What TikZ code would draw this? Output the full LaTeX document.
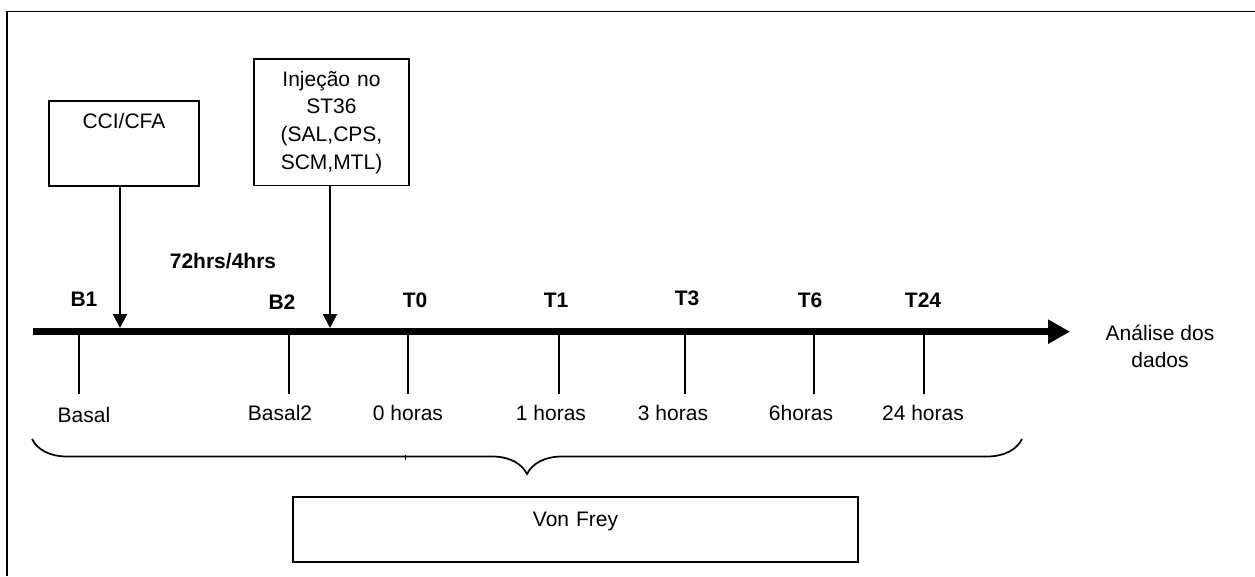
\documentclass[tikz,border=0pt]{standalone}
\usepackage{fontspec}
\setmainfont{Liberation Sans}
\usetikzlibrary{arrows.meta,decorations.pathreplacing}
\begin{document}
\begin{tikzpicture}[x=1pt,y=-1pt,
  font=\fontsize{21}{27.7}\selectfont,
  box/.style={draw, line width=1.6pt, inner sep=0pt, align=center},
  lbl/.style={inner sep=0pt, anchor=center},
  blbl/.style={lbl, font=\fontsize{21}{27.7}\selectfont\bfseries},
  drop/.style={line width=2pt, -{Triangle[length=14pt,width=14pt]}},
  tickln/.style={line width=1.5pt},
  axis/.style={line width=7pt, -{Triangle[length=22pt,width=23pt]}},
  bracestyle/.style={line width=1.7pt, decorate, decoration={brace, mirror, amplitude=35pt}},
  frame/.style={line width=1.6pt}
  ]
\useasboundingbox (0,0) rectangle (1255,576);
% frame
\draw[frame] (7,576) -- (7,11.5) -- (1255,11.5);

% boxes
\node[box, text width=150pt, text height=27.5pt, text depth=57.5pt] (cci) at (124,143.2) {CCI/CFA};
\node[box, text width=155pt, minimum height=126.7pt] (inj) at (331.5,122.3) {Injeção no\\ST36\\(SAL,CPS,\\SCM,MTL)};
\node[box, text width=565pt, text height=29.5pt, text depth=35.5pt] (vf) at (575.5,529.5) {Von Frey};

% axis
\coordinate (axs) at (33,331.7);
\coordinate (axe) at (1070,331.7);
\draw[axis] (axs) -- (axe);

% drop arrows
\coordinate (a1) at (120,328);
\coordinate (a2) at (330,328);
\draw[drop] (cci.south -| a1) -- (a1);
\draw[drop] (inj.south -| a2) -- (a2);

% ticks
\foreach \x in {79,289,408,559,685,814,924}
  \draw[tickln] (\x,332) -- (\x,394);

% top labels
\node[blbl] (l72) at (223,261) {72hrs/4hrs};
\node[blbl] (b1) at (84,299) {B1};
\node[blbl] (b2) at (282,302) {B2};
\node[blbl] (t0) at (415,300) {T0};
\node[blbl] (t1) at (556,300) {T1};
\node[blbl] (t3) at (687,298) {T3};
\node[blbl] (t6) at (810,300) {T6};
\node[blbl] (t24) at (923,300) {T24};

% bottom labels
\node[lbl] (basal) at (84,415) {Basal};
\node[lbl] (basal2) at (280,413) {Basal2};
\node[lbl] (h0) at (408,413) {0 horas};
\node[lbl] (h1) at (551,413) {1 horas};
\node[lbl] (h3) at (673,413) {3 horas};
\node[lbl] (h6) at (801,413) {6horas};
\node[lbl] (h24) at (923,413) {24 horas};

\node[lbl, align=center] (ana) at (1160,346.5) {Análise dos\\dados};

% brace
\coordinate (bl) at (32,439);
\coordinate (br) at (1022,439);
\draw[bracestyle] (bl) -- (br);
\draw[line width=0.8pt] (405,455) -- (405,460);
\end{tikzpicture}
\end{document}
